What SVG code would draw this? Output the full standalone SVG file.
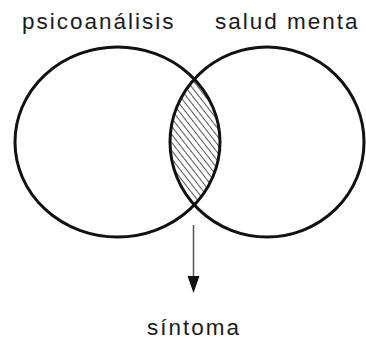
<svg xmlns="http://www.w3.org/2000/svg" width="366" height="344" viewBox="0 0 366 344">
<style>
.lbl{font-family:"Liberation Sans",Arial,sans-serif;font-size:22.5px;fill:#1a1a1a;letter-spacing:2px}
.set{fill:none;stroke:#111;stroke-width:3}
</style>
<defs>
<pattern id="hatch" patternUnits="userSpaceOnUse" width="5" height="5" patternTransform="rotate(52)">
<line x1="0" y1="2.5" x2="5" y2="2.5" stroke="#444" stroke-width="0.9"/>
</pattern>
<clipPath id="clipL"><ellipse cx="117.5" cy="142" rx="102.5" ry="95"/></clipPath>
</defs>
<rect width="366" height="344" fill="#fff"/>
<g id="intersection">
<ellipse cx="267" cy="142" rx="97" ry="95" fill="url(#hatch)" clip-path="url(#clipL)"/>
</g>
<g id="psicoanalisis">
<ellipse class="set" cx="117.5" cy="142" rx="102.5" ry="95"/>
<text class="lbl" x="22" y="28.5">psicoanálisis</text>
</g>
<g id="salud-mental">
<ellipse class="set" cx="267" cy="142" rx="97" ry="95"/>
<text class="lbl" x="215" y="28.5">salud menta</text>
</g>
<g id="connectors">
<line x1="193.5" y1="225" x2="193.5" y2="277" stroke="#555" stroke-width="1.5"/>
<path d="M187.5,276 L199.5,276 L193.5,293 Z" fill="#111"/>
</g>
<g id="sintoma">
<text class="lbl" x="147" y="335">síntoma</text>
</g>
</svg>
